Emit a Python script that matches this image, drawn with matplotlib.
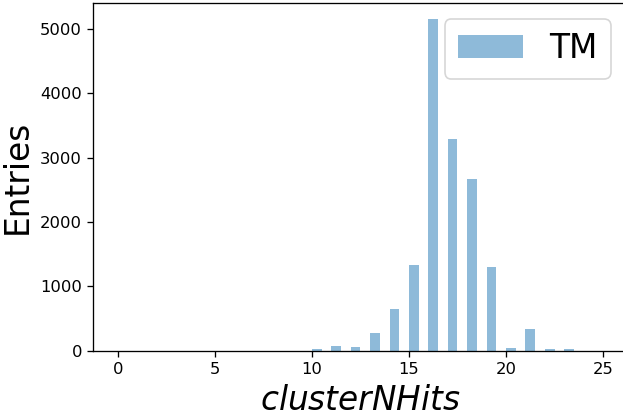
import numpy as np
import matplotlib
matplotlib.use("Agg")
import matplotlib.pyplot as plt

# cluster size (number of hits) and counts per value
n_hits = [10, 11, 12, 13, 14, 15, 16, 17, 18, 19, 20, 21, 22, 23]
counts = [30, 80, 50, 280, 650, 1330, 5145, 3290, 2665, 1300, 35, 330, 30, 30]

bin_edges = np.linspace(0, 25, 51)

fig = plt.figure(figsize=(623 / 118, 416 / 118), dpi=118)
# the original was cropped on the right, so the axes run past the edge
ax = fig.add_axes([0.150, 0.157, 0.857, 0.836])

ax.hist(n_hits, bins=bin_edges, weights=counts, alpha=0.5, label="TM")

ax.set_xlabel(r"$clusterNHits$", fontsize=20)
ax.set_ylabel("Entries", fontsize=20)
ax.tick_params(labelsize=10)
ax.legend(loc="upper right", fontsize=20)

fig.savefig("out.png", dpi=118)
